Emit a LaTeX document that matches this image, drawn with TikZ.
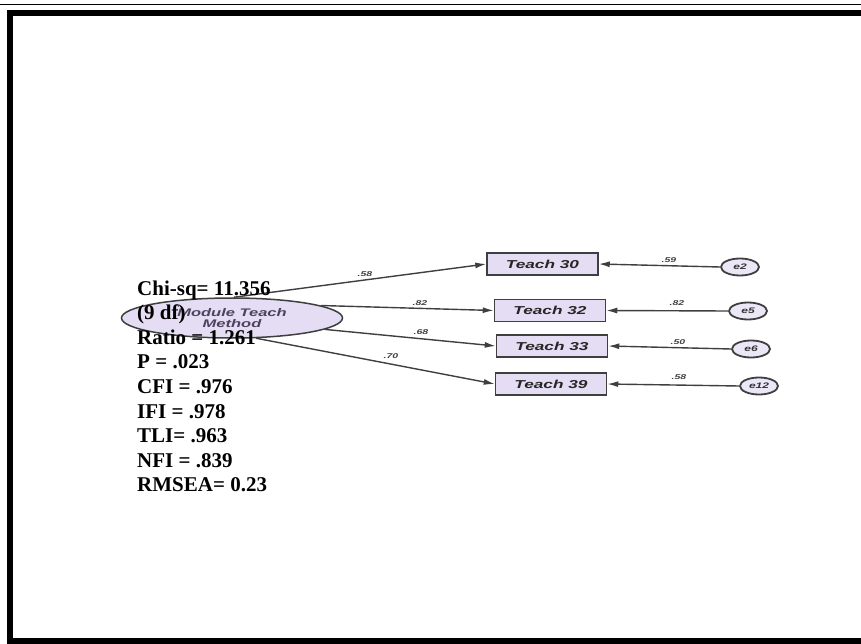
\documentclass[tikz,border=0pt]{standalone}
\usepackage{fontspec}
\setmainfont{Liberation Serif}
\newfontfamily\amosfont[FakeStretch=1.5]{Liberation Sans}
\usetikzlibrary{arrows.meta}
\usetikzlibrary{shapes.geometric}
\definecolor{lilac}{HTML}{E4DDF3}
\definecolor{edgegray}{HTML}{3F3F3F}
\definecolor{latenttext}{HTML}{4E4260}

\begin{document}
\begin{tikzpicture}[x=1pt,y=-1pt,
	latent/.style={ellipse, draw=edgegray, line width=1.5pt, fill=lilac, minimum width=221pt, minimum height=40pt, inner sep=0pt},
	observed/.style={rectangle, draw=edgegray, line width=1.5pt, fill=lilac, minimum width=111pt, minimum height=22pt, inner sep=0pt, text=black!85, font=\amosfont\bfseries\itshape\fontsize{11.5}{12}\selectfont},
	errvar/.style={ellipse, draw=edgegray, line width=1.8pt, fill=lilac!70, minimum width=38pt, minimum height=17pt, inner sep=0pt, text=black!80, font=\amosfont\bfseries\itshape\fontsize{8}{9}\selectfont},
	loading/.style={draw=edgegray, line width=1.4pt, -{Latex[length=11pt,width=6pt]}},
	coef/.style={inner sep=0pt, text=black!75, font=\amosfont\bfseries\itshape\fontsize{7}{7}\selectfont},
	fitline/.style={anchor=base west, inner sep=0pt, font=\bfseries\fontsize{21}{24}\selectfont}]

	\useasboundingbox (0,0) rectangle (861,644);

	%Frame
	\draw[line width=0.6pt] (0,4) -- (861,4);
	\draw[line width=6pt] (870,13) -- (10,13) -- (10,641) -- (870,641);

	%Latent factor
	\node[latent, text=latenttext, align=center, font=\amosfont\bfseries\itshape\fontsize{11}{11}\selectfont] (lat) at (232,318) {Module Teach\\Method};

	%Items
	\node[observed] (t30) at (542.5,264) {Teach 30};
	\node[observed] (t32) at (550,310.5) {Teach 32};
	\node[observed] (t33) at (552,346) {Teach 33};
	\node[observed] (t39) at (551,384) {Teach 39};

	%Errors
	\node[errvar] (e2) at (740,267) {e2};
	\node[errvar] (e5) at (748,311) {e5};
	\node[errvar] (e6) at (751,349) {e6};
	\node[errvar] (e12) at (759,386) {e12};

	%Loadings
	\draw[loading] (lat.85) -- (t30.west);
	\draw[loading] (lat.8) -- (t32.west);
	\draw[loading] (lat.-7) -- (t33.west);
	\draw[loading] (lat.-40) -- (t39.west);
	\node[coef] (c30) at (365,274) {.58};
	\node[coef] (c32) at (420,303) {.82};
	\node[coef] (c33) at (421,332) {.68};
	\node[coef] (c39) at (391,356) {.70};

	\draw[loading] (e2.west) -- (t30.east);
	\draw[loading] (e5.west) -- (t32.east);
	\draw[loading] (e6.west) -- (t33.east);
	\draw[loading] (e12.west) -- (t39.east);
	\node[coef] (d2) at (669,260) {.59};
	\node[coef] (d5) at (677,303) {.82};
	\node[coef] (d6) at (678,342) {.50};
	\node[coef] (d12) at (679,377) {.58};

	%Fit indices
	\foreach \txt [count=\i from 0] in {Chi-sq= 11.356, (9 df), Ratio = 1.261, P = .023, CFI = .976, IFI = .978, TLI= .963, NFI = .839, RMSEA= 0.23}
		\node[fitline] (fit\i) at (137,295+24.6*\i) {\txt};

\end{tikzpicture}
\end{document}
